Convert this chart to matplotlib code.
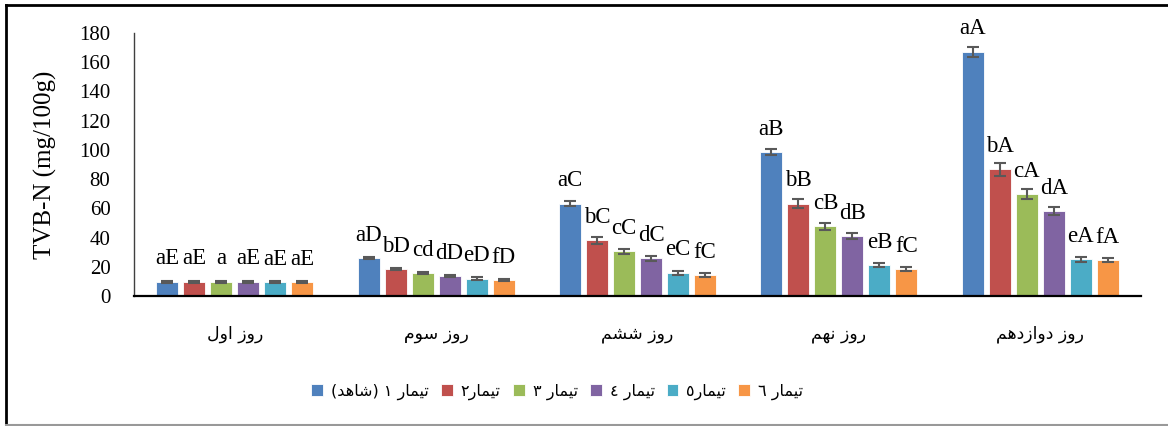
import matplotlib
matplotlib.use("Agg")
import matplotlib.pyplot as plt
from matplotlib.lines import Line2D
import numpy as np

# storage days (x categories)
days = ["روز اول", "روز سوم", "روز ششم", "روز نهم", "روز دوازدهم"]

# treatments
treatments = ["تیمار ١ (شاهد)", "تیمار٢", "تیمار ٣", "تیمار ٤", "تیمار٥", "تیمار ٦"]
colors = ["#4F81BD", "#C0504D", "#9BBB59", "#8064A2", "#4BACC6", "#F79646"]

# TVB-N (mg/100g) per treatment, one value per day
t1 = [9.7, 25.8, 63.2, 98.6, 167.2]
t2 = [9.7, 18.5, 38.1, 63.2, 86.7]
t3 = [9.7, 15.7, 30.6, 47.7, 69.6]
t4 = [9.7, 13.7, 25.8, 41.1, 58.2]
t5 = [9.6, 11.9, 16.0, 21.0, 25.1]
t6 = [9.6, 10.9, 14.4, 18.5, 24.6]

# standard deviations
e1 = [0.6, 0.8, 1.6, 2.0, 3.5]
e2 = [0.6, 1.0, 2.2, 3.1, 4.6]
e3 = [0.6, 0.9, 1.9, 2.5, 3.5]
e4 = [0.6, 0.8, 1.6, 2.2, 2.9]
e5 = [0.6, 0.8, 1.4, 1.4, 1.6]
e6 = [0.6, 0.7, 1.1, 1.3, 1.5]

# significance letters
l1 = ["aE", "aD", "aC", "aB", "aA"]
l2 = ["aE", "bD", "bC", "bB", "bA"]
l3 = ["a", "cd", "cC", "cB", "cA"]
l4 = ["aE", "dD", "dC", "dB", "dA"]
l5 = ["aE", "eD", "eC", "eB", "eA"]
l6 = ["aE", "fD", "fC", "fC", "fA"]

values = [t1, t2, t3, t4, t5, t6]
errors = [e1, e2, e3, e4, e5, e6]
letters = [l1, l2, l3, l4, l5, l6]

# Arabic presentation forms: isolated, final, initial, medial
FORMS = {
    "ا": ("\uFE8D", "\uFE8E", None, None),
    "د": ("\uFEA9", "\uFEAA", None, None),
    "ر": ("\uFEAD", "\uFEAE", None, None),
    "ز": ("\uFEAF", "\uFEB0", None, None),
    "و": ("\uFEED", "\uFEEE", None, None),
    "ت": ("\uFE95", "\uFE96", "\uFE97", "\uFE98"),
    "س": ("\uFEB1", "\uFEB2", "\uFEB3", "\uFEB4"),
    "ش": ("\uFEB5", "\uFEB6", "\uFEB7", "\uFEB8"),
    "ل": ("\uFEDD", "\uFEDE", "\uFEDF", "\uFEE0"),
    "م": ("\uFEE1", "\uFEE2", "\uFEE3", "\uFEE4"),
    "ن": ("\uFEE5", "\uFEE6", "\uFEE7", "\uFEE8"),
    "ه": ("\uFEE9", "\uFEEA", "\uFEEB", "\uFEEC"),
    "ی": ("\uFBFC", "\uFBFD", "\uFBFE", "\uFBFF"),
}


def fa(text):
    """Shape Persian text and put it in visual (left-to-right) order."""
    out = []
    for i, ch in enumerate(text):
        if ch not in FORMS:
            out.append(ch)
            continue
        prev = text[i - 1] if i > 0 else ""
        nxt = text[i + 1] if i + 1 < len(text) else ""
        iso, fin, ini, med = FORMS[ch]
        joins_prev = prev in FORMS and FORMS[prev][2] is not None
        joins_next = nxt in FORMS and ini is not None
        if joins_prev and joins_next:
            out.append(med)
        elif joins_prev:
            out.append(fin)
        elif joins_next:
            out.append(ini)
        else:
            out.append(iso)
    s = "".join(out)[::-1]
    return s.translate(str.maketrans("()", ")("))


serif = ["Liberation Serif", "DejaVu Serif"]
arabic = ["DejaVu Sans"]

fig = plt.figure(figsize=(11.68, 4.26), dpi=100)
ax = fig.add_axes([134 / 1168, 1 - 296 / 426, (1141 - 134) / 1168, (296 - 33) / 426])

x = np.arange(len(days))
step = 0.134
width = 0.109
for j, (vals, errs, labs) in enumerate(zip(values, errors, letters)):
    pos = x + (j - 2.5) * step
    ax.bar(pos, vals, width, color=colors[j], edgecolor="white", linewidth=0.6,
           label=fa(treatments[j]), zorder=2)
    ax.errorbar(pos, vals, yerr=errs, fmt="none", ecolor="#595959",
                elinewidth=1.5, capsize=4, capthick=1.5, zorder=3)
    for p, v, t in zip(pos, vals, labs):
        ax.annotate(t, (p, v), xytext=(0, 12.5), textcoords="offset points",
                    ha="center", va="baseline", fontsize=16.5, family=serif)

ax.set_xlim(-0.5, len(days) - 0.5)
ax.set_ylim(0, 180)
ax.set_yticks(np.arange(0, 181, 20))
ax.set_xticks(x)
ax.set_xticklabels([fa(d) for d in days], family=arabic, fontsize=12.5)
for lab in ax.get_yticklabels():
    lab.set_family(serif)
    lab.set_fontsize(15)
ax.tick_params(axis="y", length=0, pad=17)
ax.tick_params(axis="x", length=0, pad=21)
ax.spines["top"].set_visible(False)
ax.spines["right"].set_visible(False)
ax.spines["left"].set_color("#404040")
ax.spines["left"].set_linewidth(1.0)
ax.spines["bottom"].set_linewidth(1.6)
ax.set_ylabel("TVB-N (mg/100g)", family=serif, fontsize=18)
ax.yaxis.set_label_coords(-0.076, 0.5)

leg = fig.legend(loc="center", bbox_to_anchor=(0.477, 1 - 392 / 426), ncol=6,
                 frameon=False, handlelength=0.75, handleheight=0.8,
                 handletextpad=0.5, columnspacing=0.75,
                 prop={"family": arabic, "size": 11.5})

# outer frame
fig.add_artist(Line2D([5.5 / 1168, 1], [1 - 4.5 / 426] * 2, color="black", lw=2))
fig.add_artist(Line2D([5.5 / 1168] * 2, [1.5 / 426, 1 - 4.5 / 426], color="black", lw=2))
fig.add_artist(Line2D([5.5 / 1168, 1], [1.5 / 426] * 2, color="#999999", lw=1.5))

fig.savefig("out.png", dpi=100)
